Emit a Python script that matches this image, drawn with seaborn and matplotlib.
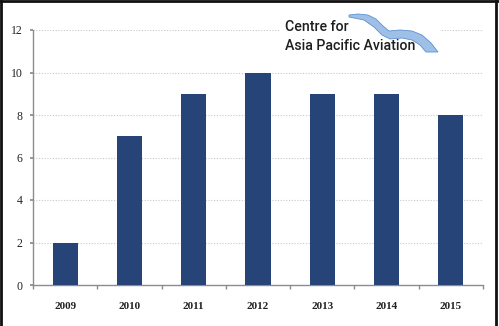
import matplotlib
matplotlib.use("Agg")
import matplotlib.pyplot as plt
import seaborn as sns
import pandas as pd
from matplotlib.patches import Rectangle, Polygon

years = ["2009", "2010", "2011", "2012", "2013", "2014", "2015"]
values = [2, 7, 9, 10, 9, 9, 8]
yticks = [0, 2, 4, 6, 8, 10, 12]

df = pd.DataFrame({"year": years, "value": values})

sns.set_theme(style="white")
W, H = 499, 326
fig = plt.figure(figsize=(W / 100, H / 100), dpi=100)
ax = fig.add_axes([33 / W, 1 - 285 / H, (483 - 33) / W, (285 - 30) / H])

sns.barplot(data=df, x="year", y="value", color="#264478", saturation=1,
            width=0.39, ax=ax, zorder=3, edgecolor="none", linewidth=0)

ax.set_ylim(0, 12)
ax.set_xlim(-0.5, 6.5)
ax.set_yticks(yticks)
ax.set_xlabel("")
ax.set_ylabel("")
for y in yticks[1:]:
    ax.axhline(y, color="#c8c8c8", lw=0.8, ls=(0, (1, 1.5)), zorder=1)

for s in ["top", "right"]:
    ax.spines[s].set_visible(False)
for s in ["left", "bottom"]:
    ax.spines[s].set_color("#8c8c8c")
    ax.spines[s].set_linewidth(1.0)

ax.tick_params(axis="y", which="major", left=True, length=2.5, color="#8c8c8c",
               labelsize=8.5, pad=5)
ax.tick_params(axis="x", which="major", bottom=False, length=0, labelsize=8, pad=12)
ax.set_xticks([i - 0.5 for i in range(8)], minor=True)
ax.tick_params(axis="x", which="minor", bottom=True, length=3, color="#8c8c8c")
for lab in ax.get_yticklabels():
    lab.set_family("Liberation Serif")
    lab.set_color("#222222")
for lab in ax.get_xticklabels():
    lab.set_family("Liberation Serif")
    lab.set_fontweight("bold")
    lab.set_color("#222222")

# logo area
def fx(x):
    return x / W

def fy(y):
    return 1 - y / H

fig.patches.append(Rectangle((fx(279), fy(57)), fx(440) - fx(279), fy(14) - fy(57),
                             transform=fig.transFigure, facecolor="white",
                             edgecolor="none", zorder=5))
pts_up = [(349, 15), (358, 14), (368, 15), (376, 19), (383, 26), (389, 31),
          (400, 30), (412, 31), (422, 35), (431, 43), (438, 52)]
pts_lo = [(426, 52), (420, 45), (412, 40), (402, 38), (390, 39), (382, 35),
          (374, 27), (364, 20), (349, 17)]
poly = [(fx(x), fy(y)) for x, y in pts_up + pts_lo]
fig.patches.append(Polygon(poly, closed=True, transform=fig.transFigure,
                           facecolor="#9fc0e6", edgecolor="#5d90d0", lw=0.6,
                           zorder=6))
fig.text(fx(285), fy(27), "Centre for", fontsize=10.2, family="Roboto",
         fontweight="medium", color="#1e1e1e", va="center", ha="left", zorder=7)
fig.text(fx(285), fy(46), "Asia Pacific Aviation", fontsize=10.2,
         family="Roboto", fontweight="medium", color="#1e1e1e", va="center",
         ha="left", zorder=7)

# border
for seg in [((1, 1), (0, H)), ((0, W), (1, 1)), ((W - 3, W - 3), (0, H))]:
    fig.add_artist(plt.Line2D([fx(seg[0][0]), fx(seg[0][1])],
                              [fy(seg[1][0]), fy(seg[1][1])],
                              transform=fig.transFigure, color="#111111", lw=2))

fig.savefig("out.png", dpi=100)
